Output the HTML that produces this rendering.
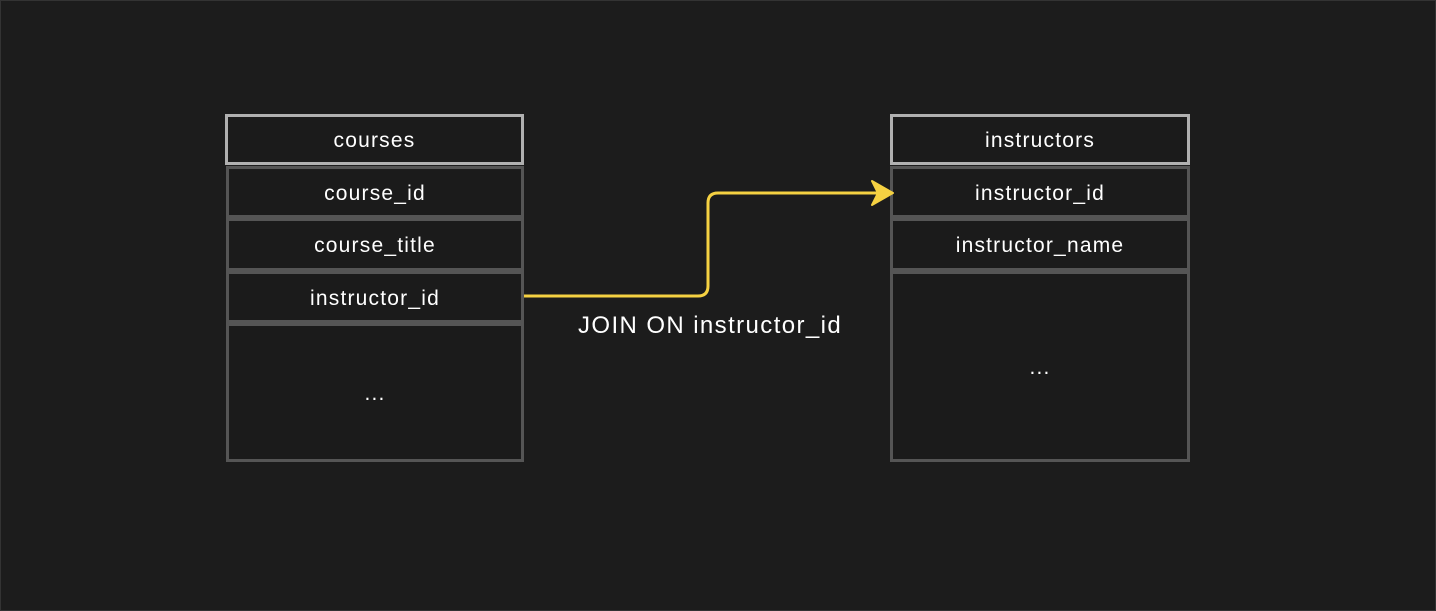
<!DOCTYPE html>
<html><head><style>
body{margin:0;width:1436px;height:611px;background:#1c1c1c;overflow:hidden;font-family:"Liberation Sans","DejaVu Sans",sans-serif;}
.b{position:absolute;box-sizing:border-box;background:#1b1b1b;border:3px solid #555;color:#fff;font-size:21px;letter-spacing:1.2px;display:flex;align-items:center;justify-content:center;padding-top:3px;}
.h{border-color:#b0b0b0;}
</style></head><body>
<div style="position:absolute;left:0;top:0;width:1434px;height:609px;border:1px solid #333"></div>
<div class="b h" style="left:225px;top:114px;width:299px;height:51px">courses</div>
<div class="b" style="left:226px;top:166px;width:298px;height:52px">course_id</div>
<div class="b" style="left:226px;top:218px;width:298px;height:53px">course_title</div>
<div class="b" style="left:226px;top:271px;width:298px;height:52px">instructor_id</div>
<div class="b" style="left:226px;top:323px;width:298px;height:139px">...</div>
<div class="b h" style="left:890px;top:114px;width:300px;height:51px">instructors</div>
<div class="b" style="left:890px;top:166px;width:300px;height:52px">instructor_id</div>
<div class="b" style="left:890px;top:218px;width:300px;height:53px">instructor_name</div>
<div class="b" style="left:890px;top:271px;width:300px;height:191px">...</div>
<svg style="position:absolute;left:0;top:0" width="1436" height="611">
<path d="M524 296 H698 Q708 296 708 286 V203 Q708 193 718 193 H884" fill="none" stroke="#f5d142" stroke-width="3"/>
<path d="M872 181 L893 193 L872 205 L878 193 Z" fill="#f5d142" stroke="#f5d142" stroke-width="2" stroke-linejoin="round"/>
</svg>
<div style="position:absolute;left:578px;top:312px;color:#fff;font-size:24px;letter-spacing:1.4px">JOIN ON instructor_id</div>
</body></html>
